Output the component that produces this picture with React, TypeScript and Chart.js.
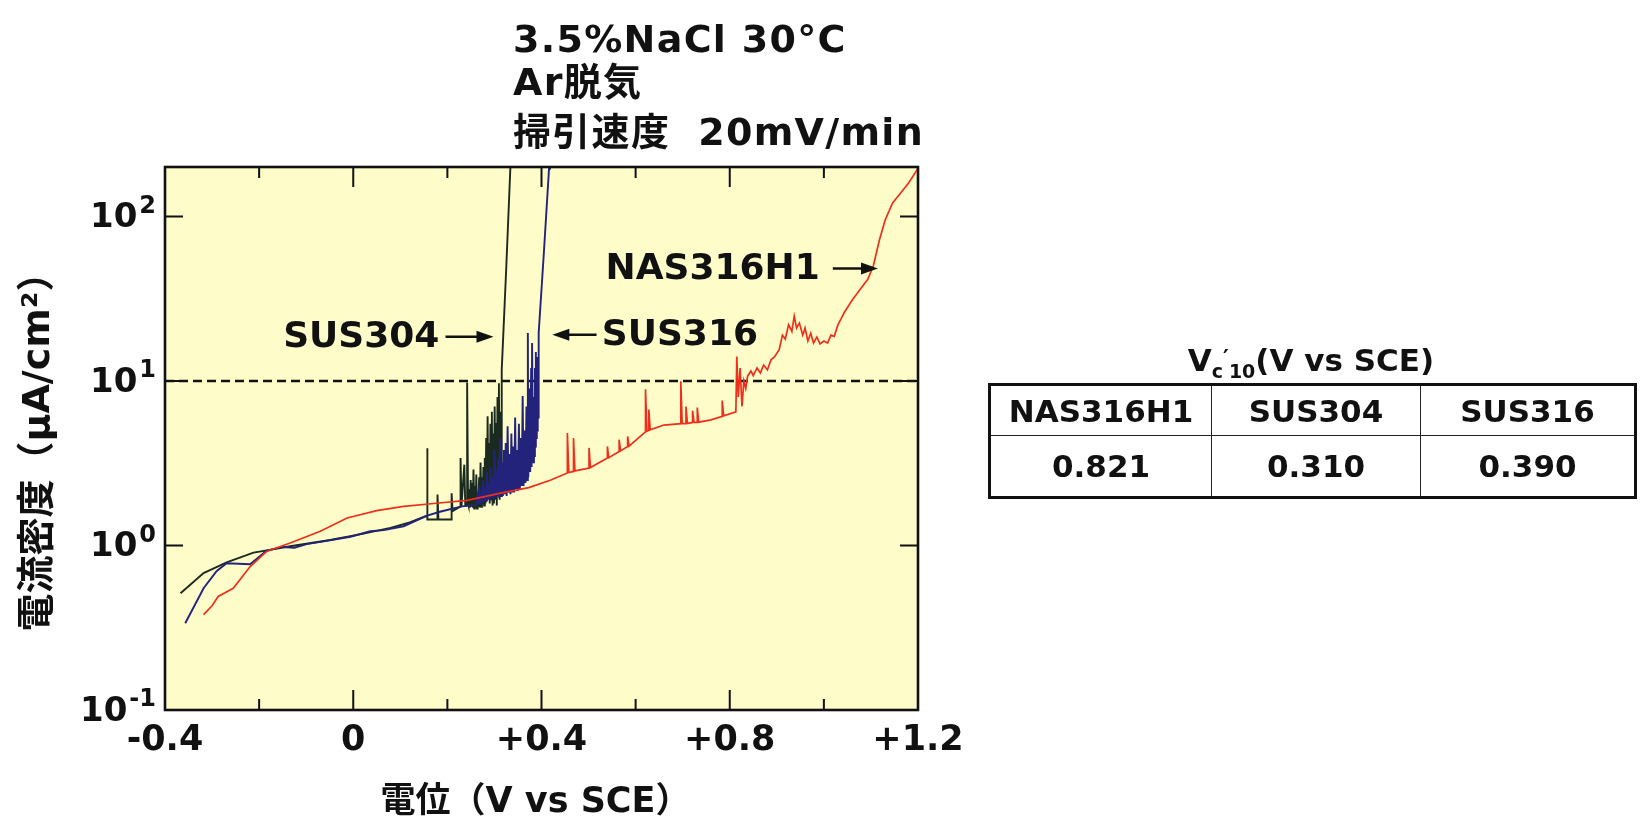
import React, { useEffect, useRef } from 'react';
import { Chart, registerables } from 'chart.js';

Chart.register(...registerables);

// ---------- axis ticks ----------
const xMajorTicks = [-0.4, 0, 0.4, 0.8, 1.2];
const xTickLabels = ['-0.4', '0', '+0.4', '+0.8', '+1.2'];
const xMinorTicks = [-0.2, 0.2, 0.6, 1.0];
const yTicks = [0.1, 1, 10, 100];
const yTickExponents = ['-1', '0', '1', '2'];
const yMax = 200;
const thresholdCurrent = 10;

// ---------- NAS316H1 (red) ----------
const nasX = [
  -0.318, -0.3, -0.287, -0.255, -0.219, -0.184, -0.134, -0.07, -0.013, 0.05, 0.107, 0.171, 0.242, 0.313, 0.373, 0.42,
  0.455, 0.455, 0.458, 0.468, 0.468, 0.471, 0.501, 0.501, 0.504, 0.54, 0.54, 0.543, 0.565, 0.565, 0.568,
  0.583, 0.583, 0.586, 0.621, 0.621, 0.624, 0.628, 0.628, 0.631, 0.66, 0.696, 0.696, 0.699, 0.707, 0.707, 0.71,
  0.721, 0.721, 0.724, 0.731, 0.731, 0.734, 0.76, 0.784, 0.784, 0.787, 0.813, 0.815, 0.818, 0.822, 0.826, 0.83,
  0.834, 0.838, 0.845, 0.85, 0.858, 0.865, 0.872, 0.88, 0.888, 0.895, 0.905, 0.912, 0.918, 0.925, 0.932, 0.937,
  0.942, 0.948, 0.955, 0.96, 0.966, 0.972, 0.978, 0.985, 0.992, 1.0, 1.008, 1.015, 1.022, 1.03, 1.037, 1.043,
  1.06, 1.08, 1.093, 1.105, 1.118, 1.13, 1.146, 1.164, 1.18, 1.199,
];
const nasY = [
  0.38, 0.43, 0.49, 0.55, 0.745, 0.92, 1.035, 1.22, 1.47, 1.63, 1.73, 1.8, 1.88, 2.08, 2.25, 2.5,
  2.76, 4.83, 2.78, 2.82, 4.5, 2.84, 2.96, 3.92, 2.98, 3.4, 4.0, 3.42, 3.73, 4.4, 3.76,
  4.0, 4.6, 4.02, 4.9, 8.9, 4.95, 5.0, 6.7, 5.05, 5.4, 5.5, 9.96, 5.5, 5.5, 7.0, 5.52,
  5.6, 6.6, 5.6, 5.6, 6.9, 5.62, 5.8, 6.1, 7.6, 6.15, 6.5, 14.1, 8.0, 12.0, 7.0, 10.0,
  9.0, 10.7, 11.5, 10.8, 12.0, 11.2, 12.5, 11.7, 13.5, 14.0, 15.5, 19, 18, 22, 20, 24.8,
  21, 22.5, 19, 21, 17.5, 19.5, 17, 18.5, 16.8, 17.5, 17, 19, 18.7, 22, 24, 26,
  31, 37, 41.4, 50, 72, 95, 121, 140, 160, 194,
];

// ---------- SUS304 (black) ----------
const sus304X = [
  -0.367, -0.318, -0.269, -0.212, -0.177, -0.134, -0.049, 0.022, 0.079, 0.12, 0.157, 0.157, 0.158, 0.179, 0.179,
  0.181, 0.209, 0.209, 0.211, 0.228, 0.228, 0.23, 0.236, 0.238, 0.242, 0.242, 0.244,
  0.245, 0.2465, 0.248, 0.2495, 0.251, 0.2525, 0.254, 0.2555, 0.257, 0.2585, 0.26, 0.2615, 0.263, 0.2645,
  0.266, 0.2675, 0.269, 0.2705, 0.272, 0.2735, 0.275, 0.2765, 0.278, 0.2795, 0.281, 0.2825, 0.284, 0.2855,
  0.287, 0.2885, 0.29, 0.2915, 0.293, 0.2945, 0.296, 0.2975, 0.299, 0.3005, 0.302, 0.3035, 0.305, 0.3065,
  0.308, 0.3095, 0.311, 0.3125, 0.314, 0.3155, 0.325, 0.334,
];
const sus304Y = [
  0.513, 0.68, 0.79, 0.906, 0.94, 0.99, 1.08, 1.18, 1.28, 1.38, 1.52, 3.9, 1.44, 1.44, 2.04,
  1.44, 1.44, 2.08, 1.62, 1.73, 3.4, 1.74, 3.1, 1.76, 1.78, 9.8, 1.8,
  1.75, 2.2, 1.7, 2.5, 1.72, 2.4, 1.7, 2.9, 1.68, 2.3, 1.7, 2.7, 1.68, 2.1,
  1.72, 2.6, 1.7, 3.2, 1.72, 2.6, 1.78, 3.0, 1.75, 3.4, 1.8, 4.5, 1.85, 6.1,
  2.0, 4.2, 1.8, 5.5, 1.9, 6.5, 1.75, 4.8, 1.8, 7.0, 1.9, 5.56, 1.75, 8.0,
  2.3, 9.7, 1.9, 6.5, 2.6, 11.7, 48, 203,
];

// ---------- SUS316 (blue) ----------
const sus316X = [
  -0.357, -0.318, -0.29, -0.269, -0.219, -0.184, -0.15, -0.125, -0.099, -0.063, -0.006, 0.036, 0.065, 0.107,
  0.157, 0.186, 0.231, 0.26,
  0.262, 0.264, 0.266, 0.268, 0.27, 0.272, 0.274, 0.276, 0.278, 0.28, 0.282, 0.284, 0.286, 0.288, 0.29, 0.292,
  0.294, 0.296, 0.298, 0.3, 0.302, 0.304, 0.306, 0.308, 0.31, 0.312, 0.314, 0.316, 0.318, 0.32, 0.322, 0.324,
  0.326, 0.328, 0.33, 0.332, 0.334, 0.336, 0.338, 0.34, 0.342, 0.344, 0.346, 0.348, 0.35, 0.352, 0.354, 0.356,
  0.358, 0.36, 0.362, 0.364, 0.366, 0.368, 0.37, 0.371, 0.372, 0.374, 0.376, 0.378, 0.379, 0.38, 0.382, 0.384,
  0.385, 0.386, 0.387, 0.388, 0.389, 0.39, 0.391, 0.392, 0.393, 0.394, 0.405, 0.416, 0.418,
];
const sus316Y = [
  0.337, 0.55, 0.7, 0.78, 0.77, 0.93, 0.98, 0.97, 1.02, 1.06, 1.13, 1.22, 1.24, 1.31,
  1.52, 1.61, 1.73, 1.76,
  1.78, 2.1, 1.8, 2.3, 1.8, 2.0, 1.82, 2.5, 1.85, 2.2, 1.85, 2.8, 1.9, 2.4, 1.9, 3.0,
  1.95, 2.6, 1.9, 3.8, 1.95, 2.9, 2.0, 3.4, 1.95, 4.5, 2.0, 3.2, 2.0, 3.8, 2.05, 4.2,
  2.0, 5.3, 2.1, 3.6, 2.05, 4.8, 2.1, 4.0, 2.1, 6.0, 2.2, 3.8, 2.15, 5.5, 2.2, 4.5,
  2.3, 8.1, 2.3, 5.0, 2.4, 7.0, 2.5, 19.6, 2.6, 9.0, 2.8, 12.0, 3.0, 17.0, 3.2, 8.0,
  3.5, 12.0, 4.0, 15.0, 4.5, 10.0, 5.0, 14.0, 6.0, 19.6, 60, 195, 220,
];

// ---------- table ----------
const tableHeaders = ['NAS316H1', 'SUS304', 'SUS316'];
const tableValues = ['0.821', '0.310', '0.390'];

// ---------- in-plot labels ----------
const curveLabels = [
  { text: 'SUS304', x: 0.183, y: 18.6, align: 'right', arrowFrom: 0.196, arrowTo: 0.298 },
  { text: 'SUS316', x: 0.528, y: 19.1, align: 'left', arrowFrom: 0.517, arrowTo: 0.423 },
  { text: 'NAS316H1', x: 0.536, y: 48.3, align: 'left', arrowFrom: 1.019, arrowTo: 1.115 },
];

const FONT = '"DejaVu Sans", "Noto Sans CJK JP", sans-serif';
const RED = '#ef2f1c';
const BLACK = '#1b2a1e';
const BLUE = '#23237c';
const PLOT_BG = '#fefcc9';

const pts = (xs: number[], ys: number[]) => xs.map((x, i) => ({ x, y: ys[i] }));

const decorPlugin = {
  id: 'decor',
  beforeDatasetsDraw(chart: any) {
    const { ctx, chartArea: a } = chart;
    ctx.save();
    ctx.fillStyle = PLOT_BG;
    ctx.fillRect(a.left, a.top, a.right - a.left, a.bottom - a.top);
    ctx.restore();
  },
  afterDatasetsDraw(chart: any) {
    const { ctx, chartArea: a } = chart;
    const xs = chart.scales.x;
    const ys = chart.scales.y;
    ctx.save();
    ctx.strokeStyle = '#111';
    ctx.fillStyle = '#111';

    // ticks (inward)
    ctx.lineWidth = 2;
    const vline = (px: number, len: number) => {
      ctx.beginPath();
      ctx.moveTo(px, a.bottom);
      ctx.lineTo(px, a.bottom - len);
      ctx.moveTo(px, a.top);
      ctx.lineTo(px, a.top + len);
      ctx.stroke();
    };
    xMajorTicks.forEach((v) => vline(xs.getPixelForValue(v), 20));
    xMinorTicks.forEach((v) => vline(xs.getPixelForValue(v), 11));
    yTicks.forEach((v) => {
      const py = ys.getPixelForValue(v);
      ctx.beginPath();
      ctx.moveTo(a.left, py);
      ctx.lineTo(a.left + 18, py);
      ctx.moveTo(a.right, py);
      ctx.lineTo(a.right - 18, py);
      ctx.stroke();
    });

    // border
    ctx.lineWidth = 2.6;
    ctx.strokeRect(a.left, a.top, a.right - a.left, a.bottom - a.top);

    // x tick labels
    ctx.font = `bold 35px ${FONT}`;
    ctx.textAlign = 'center';
    ctx.textBaseline = 'middle';
    xMajorTicks.forEach((v, i) => {
      ctx.fillText(xTickLabels[i], xs.getPixelForValue(v), a.bottom + 31);
    });

    // y tick labels: 10^n
    yTicks.forEach((v, i) => {
      const py = ys.getPixelForValue(v);
      ctx.textAlign = 'right';
      ctx.textBaseline = 'middle';
      ctx.font = `bold 24px ${FONT}`;
      const ew = ctx.measureText(yTickExponents[i]).width;
      ctx.fillText(yTickExponents[i], a.left - 9, py - 10);
      ctx.font = `bold 34px ${FONT}`;
      ctx.fillText('10', a.left - 11 - ew, py + 2);
    });

    // axis titles
    ctx.textAlign = 'center';
    ctx.textBaseline = 'middle';
    ctx.font = `bold 35px ${FONT}`;
    ctx.fillText('電位（V vs SCE）', (a.left + a.right) / 2 - 6, a.bottom + 93);
    ctx.save();
    ctx.translate(39, (a.top + a.bottom) / 2 + 4);
    ctx.rotate(-Math.PI / 2);
    ctx.font = `bold 38px ${FONT}`;
    ctx.fillText('電流密度（μA/cm²）', 0, 0);
    ctx.restore();

    // curve labels with arrows
    ctx.font = `bold 36px ${FONT}`;
    ctx.textBaseline = 'middle';
    curveLabels.forEach((l) => {
      const py = ys.getPixelForValue(l.y);
      ctx.textAlign = l.align as CanvasTextAlign;
      ctx.fillText(l.text, xs.getPixelForValue(l.x), py + 1);
      const x0 = xs.getPixelForValue(l.arrowFrom);
      const x1 = xs.getPixelForValue(l.arrowTo);
      const dir = Math.sign(x1 - x0);
      ctx.lineWidth = 2.6;
      ctx.beginPath();
      ctx.moveTo(x0, py);
      ctx.lineTo(x1 - dir * 12, py);
      ctx.stroke();
      ctx.beginPath();
      ctx.moveTo(x1, py);
      ctx.lineTo(x1 - dir * 17, py - 6);
      ctx.lineTo(x1 - dir * 17, py + 6);
      ctx.closePath();
      ctx.fill();
    });

    ctx.restore();
  },
};

export default function App() {
  const canvasRef = useRef<HTMLCanvasElement | null>(null);

  useEffect(() => {
    if (!canvasRef.current) return;
    const line = (label: string, data: any[], color: string, width: number) => ({
      label,
      data,
      showLine: true,
      borderColor: color,
      backgroundColor: color,
      borderWidth: width,
      pointRadius: 0,
      tension: 0,
    });
    const chart = new Chart(canvasRef.current, {
      type: 'scatter',
      data: {
        datasets: [
          line('NAS316H1', pts(nasX, nasY), RED, 1.7),
          line('SUS316', pts(sus316X, sus316Y), BLUE, 1.9),
          line('SUS304', pts(sus304X, sus304Y), BLACK, 1.9),
          {
            label: 'Vc10',
            data: [
              { x: xMajorTicks[0], y: thresholdCurrent },
              { x: xMajorTicks[xMajorTicks.length - 1], y: thresholdCurrent },
            ],
            showLine: true,
            borderColor: '#111',
            borderWidth: 2.3,
            borderDash: [9, 5],
            pointRadius: 0,
          },
        ],
      } as any,
      options: {
        animation: false,
        responsive: true,
        maintainAspectRatio: false,
        events: [],
        layout: { padding: { left: 0, top: 167, right: 722, bottom: 0 } },
        plugins: { legend: { display: false }, tooltip: { enabled: false }, title: { display: false } },
        scales: {
          x: {
            type: 'linear',
            min: xMajorTicks[0],
            max: xMajorTicks[xMajorTicks.length - 1],
            grid: { display: false, drawTicks: false },
            border: { display: false },
            ticks: { display: false },
            afterFit: (s: any) => {
              s.height = 115;
            },
          },
          y: {
            type: 'logarithmic',
            min: yTicks[0],
            max: yMax,
            grid: { display: false, drawTicks: false },
            border: { display: false },
            ticks: { display: false },
            afterFit: (s: any) => {
              s.width = 165;
            },
          },
        },
      } as any,
      plugins: [decorPlugin],
    });
    return () => chart.destroy();
  }, []);

  const titleLine: React.CSSProperties = {
    position: 'absolute',
    left: 513,
    font: `bold 38px ${FONT}`,
    letterSpacing: '1.3px',
    lineHeight: '44px',
    whiteSpace: 'nowrap',
    color: '#111',
  };
  const cell: React.CSSProperties = {
    border: '1.5px solid #222',
    textAlign: 'center',
    padding: 0,
    color: '#111',
  };
  const sub: React.CSSProperties = { fontSize: '19px', verticalAlign: '-7px' };

  return (
    <div style={{ position: 'absolute', left: 0, top: 0, width: 1640, height: 825, background: '#fff', overflow: 'hidden' }}>
      <div style={{ position: 'absolute', left: 0, top: 0, width: 1640, height: 825 }}>
        <canvas ref={canvasRef} style={{ display: 'block' }} />
      </div>

      <div style={{ ...titleLine, top: 17 }}>3.5%NaCl 30°C</div>
      <div style={{ ...titleLine, top: 60 }}>Ar脱気</div>
      <div style={{ ...titleLine, top: 110 }}>
        掃引速度<span style={{ marginLeft: 28 }}>20mV/min</span>
      </div>

      <div
        style={{
          position: 'absolute',
          left: 988,
          top: 339,
          width: 646,
          textAlign: 'center',
          font: `bold 31px ${FONT}`,
          lineHeight: '38px',
          whiteSpace: 'nowrap',
          color: '#111',
        }}
      >
        V<span style={sub}>c</span>
        <span style={{ fontSize: '22px', verticalAlign: '6px' }}>′</span>
        <span style={sub}>10</span>(V vs SCE)
      </div>

      <table
        style={{
          position: 'absolute',
          left: 988,
          top: 383,
          width: 646,
          borderCollapse: 'collapse',
          tableLayout: 'fixed',
          border: '3px solid #111',
          font: `bold 31px ${FONT}`,
        }}
      >
        <colgroup>
          <col style={{ width: 222 }} />
          <col style={{ width: 209 }} />
          <col style={{ width: 215 }} />
        </colgroup>
        <tbody>
          <tr style={{ height: 51 }}>
            {tableHeaders.map((h) => (
              <td key={h} style={cell}>
                {h}
              </td>
            ))}
          </tr>
          <tr style={{ height: 62 }}>
            {tableValues.map((v, i) => (
              <td key={i} style={cell}>
                {v}
              </td>
            ))}
          </tr>
        </tbody>
      </table>
    </div>
  );
}
